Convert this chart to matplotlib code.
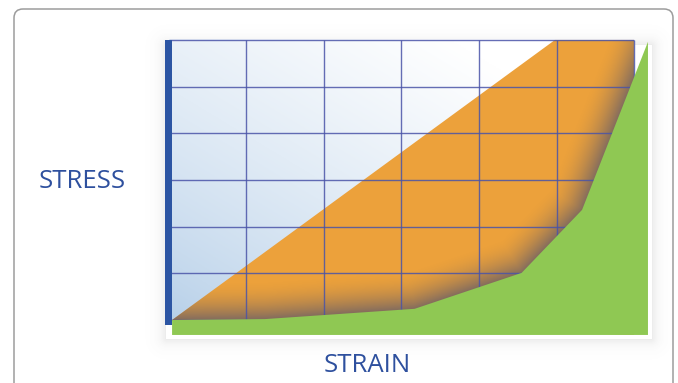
import numpy as np
import matplotlib.pyplot as plt
from matplotlib.patches import Polygon, Rectangle, FancyBboxPatch

# stress-strain curve (grid units: 6 columns of strain, 6 rows of stress)
strain = [0.04, 1.24, 3.17, 4.55, 5.33, 6.18]
stress = [0.0, 0.02, 0.24, 1.01, 2.36, 5.96]
# straight elastic line bounding the orange area
elastic_strain = [0.04, 4.98]
elastic_stress = [0.0, 6.0]
grid_x = [0, 1, 2, 3, 4, 5, 6]
grid_y = [0, 1, 2, 3, 4, 5, 6]
base = -0.32

BLUE_TXT = '#2e509e'
ORANGE = '#eca13b'
GREEN = '#8fc853'
GRID_C = '#4a54a8'
FONT = ['Open Sans', 'DejaVu Sans']

fig = plt.figure(figsize=(6.78, 3.83), dpi=100)

# full-figure layer for frame, card shadow and labels (pixel units)
bg = fig.add_axes([0, 0, 1, 1])
bg.set_xlim(0, 678)
bg.set_ylim(383, 0)
bg.axis('off')
bg.add_patch(FancyBboxPatch((14, 9), 659, 390, boxstyle='round,pad=0,rounding_size=9',
                            fc='white', ec='#9c9c9c', lw=1.1))

# soft shadow behind the chart card
px, py = np.meshgrid(np.arange(140, 678), np.arange(20, 383))
x0, y0, x1, y1 = 166, 45, 651, 338
dx = np.maximum(np.maximum(x0 - px, px - x1), 0)
dy = np.maximum(np.maximum(y0 - py, py - y1), 0)
d = np.hypot(dx, dy)
sh = np.zeros(px.shape + (4,))
sh[..., :3] = 0.35
sh[..., 3] = np.where(d > 0, 0.13 * np.exp(-d / 6.0), 0)
bg.imshow(sh, extent=(140, 678, 383, 20), aspect='auto', zorder=1, interpolation='bilinear')

bg.text(82, 181, 'STRESS', ha='center', va='center', fontsize=18.5, color=BLUE_TXT,
        family=FONT, fontweight='medium')
bg.text(367, 366, 'STRAIN', ha='center', va='center', fontsize=18.5, color=BLUE_TXT,
        family=FONT, fontweight='medium')

# chart layer in data units
ax = fig.add_axes([0.2378, 0.1157, 0.7259, 0.7922])
ax.set_xlim(-0.1, 6.25)
ax.set_ylim(-0.4, 6.1)
ax.axis('off')
ax.patch.set_visible(False)

# blue gradient backdrop of the grid
gx, gy = np.meshgrid(np.linspace(0, 1, 200), np.linspace(0, 1, 200))
t = np.clip((gx + gy) / 1.6, 0, 1) ** 0.75
c0 = np.array([0.71, 0.81, 0.91])
c1 = np.array([1.0, 1.0, 1.0])
grad = c0 + (c1 - c0) * t[..., None]
ax.imshow(grad, extent=(grid_x[0], grid_x[-1], grid_y[0], grid_y[-1]), origin='lower',
          aspect='auto', zorder=1)

# orange region right of the elastic line
orange = Polygon([(elastic_strain[0], elastic_stress[0]), (elastic_strain[1], elastic_stress[1]),
                  (grid_x[-1], grid_y[-1]), (grid_x[-1], base)],
                 closed=True, fc=ORANGE, ec='none', zorder=2)
ax.add_patch(orange)

# dark shading along the curve inside the orange region
sx = ax.bbox.width / (6.25 + 0.1)
sy = ax.bbox.height / (6.1 + 0.4)
mx, my = np.meshgrid(np.linspace(0, 6.2, 500), np.linspace(base, 6.1, 400))
qx, qy = mx * sx, my * sy
cx, cy = np.array(strain) * sx, np.array(stress) * sy
dist = np.full(mx.shape, np.inf)
for i in range(len(cx) - 1):
    ax_, ay_ = cx[i], cy[i]
    bx_, by_ = cx[i + 1], cy[i + 1]
    vx, vy = bx_ - ax_, by_ - ay_
    u = np.clip(((qx - ax_) * vx + (qy - ay_) * vy) / (vx * vx + vy * vy), 0, 1)
    dist = np.minimum(dist, np.hypot(qx - ax_ - u * vx, qy - ay_ - u * vy))
shade = np.zeros(mx.shape + (4,))
shade[..., 0] = 0.42
shade[..., 1] = 0.38
shade[..., 2] = 0.40
shade[..., 3] = 0.8 * np.clip(1 - dist / 38.0, 0, 1) ** 1.8
im = ax.imshow(shade, extent=(0, 6.2, base, 6.1), origin='lower', aspect='auto', zorder=3,
               interpolation='bilinear')
im.set_clip_path(orange)

# grid lines
ax.vlines(grid_x[1:], grid_y[0], grid_y[-1], colors=GRID_C, lw=1.0, alpha=0.85, zorder=4)
ax.hlines(grid_y, grid_x[0], grid_x[-1], colors=GRID_C, lw=1.0, alpha=0.85, zorder=4)

# green area under the stress-strain curve
green = Polygon(list(zip(strain, stress)) + [(strain[-1], base), (strain[0], base)],
                closed=True, fc=GREEN, ec='none', zorder=5)
ax.add_patch(green)

# stress axis bar
ax.add_patch(Rectangle((-0.05, -0.1), 0.09, 6.1, fc='#2c55a3', ec='none', zorder=6))

fig.savefig('out.png', dpi=100)
